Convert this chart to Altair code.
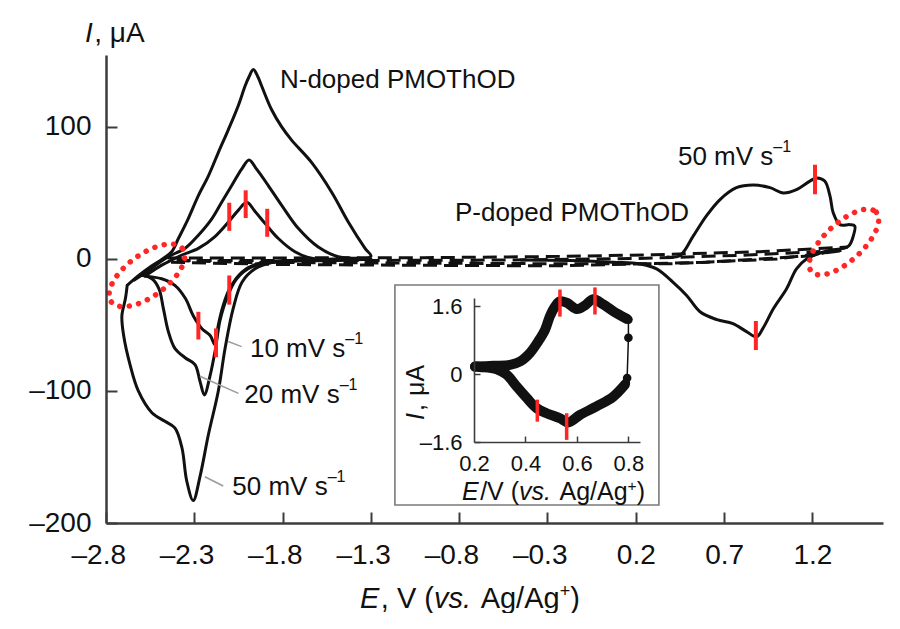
import altair as alt
import numpy as np
import pandas as pd

FONT = "Liberation Sans"
INK = "#111111"
AXC = "#3c3c3c"
RED = "#ff2626"
LEAD = "#9c9c9c"

W, H = 777, 468
X_DOM = [-2.8, 1.6]
Y_DOM = [-200, 154.5]
X_TICKS = [-2.8, -2.3, -1.8, -1.3, -0.8, -0.3, 0.2, 0.7, 1.2]
Y_TICKS = [-200, -100, 0, 100]

INS_X_DOM = [0.2, 0.845]
INS_Y_DOM = [-1.6, 1.8]
INS_X_TICKS = [0.2, 0.4, 0.6, 0.8]
INS_Y_TICKS = [-1.6, 0, 1.6]
INS_X_RANGE = [368, 534]
INS_Y_RANGE = [387, 243]

# ---------------- N-doped PMOThOD, 50 / 20 / 10 mV s-1 ----------------
n50_E = [-2.68, -2.62, -2.55, -2.48, -2.428, -2.39, -2.334, -2.277, -2.22, -2.164,
         -2.107, -2.05, -2.013, -1.99, -1.966, -1.94, -1.918, -1.862, -1.805, -1.749,
         -1.635, -1.522, -1.428, -1.333, -1.30, -1.50, -1.79, -1.86, -1.956, -2.03,
         -2.08, -2.126, -2.164, -2.22, -2.268, -2.306, -2.343, -2.37, -2.41, -2.466,
         -2.54, -2.617, -2.664, -2.70, -2.71, -2.69, -2.68]
n50_I = [-20, -13, -6, 0, 5.5, 15.5, 30.6, 48, 63, 80.6,
         98, 116.5, 130.8, 138, 143.6, 138, 130.8, 113, 100, 90,
         73, 50.6, 28, 8, 2, -1, -1.5, -2.5, -7.5, -17.6,
         -37.6, -68, -100, -133, -165, -183, -168, -143, -128, -123,
         -116.5, -100, -80, -58, -43, -30, -20]

n20_E = [-2.64, -2.56, -2.49, -2.428, -2.353, -2.277, -2.2, -2.145, -2.088, -2.032,
         -1.99, -1.947, -1.881, -1.805, -1.71, -1.598, -1.485, -1.37, -1.30, -1.50,
         -1.80, -1.975, -2.06, -2.117, -2.155, -2.18, -2.21, -2.243, -2.268, -2.296,
         -2.35, -2.41, -2.447, -2.475, -2.50, -2.54, -2.598, -2.64]
n20_I = [-16, -9, -2, 3, 8, 18, 30.6, 43, 55.6, 68,
         75, 68, 55.6, 40.6, 23, 9, 1.7, 0.5, 0, -1,
         -2, -6, -15, -30, -47, -68, -88, -103, -92.5, -80,
         -75, -67.7, -55, -37.6, -22.6, -15, -12.5, -16]

n10_E = [-2.58, -2.50, -2.43, -2.37, -2.277, -2.183, -2.107, -2.05, -2.003, -1.956,
         -1.90, -1.824, -1.73, -1.635, -1.45, -1.30, -1.55, -1.85, -1.95, -2.03,
         -2.10, -2.136, -2.164, -2.183, -2.21, -2.258, -2.306, -2.35, -2.41, -2.485,
         -2.58]
n10_I = [-13, -6, -1, 3, 8, 17, 28, 37, 43, 36,
         27, 15.5, 5.5, 0.5, 0, 0, -1, -2, -4, -10,
         -22.6, -35, -50, -65, -58, -52.6, -43, -30, -20, -15,
         -13]

# ---------------- P-doped PMOThOD ----------------
p50_E = [0.38, 0.45, 0.526, 0.60, 0.677, 0.77, 0.866, 0.96, 1.035, 1.11,
         1.186, 1.224, 1.27, 1.30, 1.318, 1.356, 1.413, 1.44, 1.432, 1.403,
         1.28, 1.167, 1.11, 1.054, 0.98, 0.92, 0.884, 0.827, 0.75, 0.66,
         0.564, 0.488, 0.41, 0.318, 0.224, 0.073, -0.116, -0.45]
p50_I = [1.5, 2.5, 17.5, 32.6, 45, 54, 56, 54, 50, 52.6,
         59, 61.4, 59, 47.6, 35, 26, 26, 25, 17.5, 9.5,
         6, 0, -7.5, -22.6, -37.6, -52.6, -59, -55, -49, -46,
         -40, -27.6, -17.5, -7.5, -3.8, -2.5, -1.3, -0.8]

pA_E = [-2.45, -1.8, -1.0, -0.3, 0.3, 0.9, 1.40, 1.2, 0.6, -0.23, -1.0, -1.8, -2.45, -2.45]
pA_I = [0.8, 0.8, 1.0, 1.8, 3.2, 5.5, 9, 2.5, -2.5, -5.2, -4.8, -4.2, -2.5, 0.8]
pB_E = [-2.40, -1.5, -0.5, 0.2, 0.8, 1.38, 1.0, 0.4, -0.3, -1.2, -2.0, -2.40]
pB_I = [-1.2, -1.2, -0.8, 0.3, 2.8, 6.5, 0.0, -3.6, -3.6, -3.0, -2.6, -1.2]

# red peak markers (main): E, I-low, I-high
RT_E = [-2.102, -2.009, -1.887, -2.102, -2.277, -2.177, 1.215, 0.88]
RT_LO = [21.3, 31, 16.8, -34.6, -61, -74.4, 49, -69]
RT_HI = [42.6, 52, 38, -12.5, -40, -52.6, 71.4, -47]

# leader lines for scan-rate labels
LEAD_E1 = [-2.108, -2.268, -2.24]
LEAD_I1 = [-62.6, -88.9, -165]
LEAD_E2 = [-2.032, -2.05, -2.136]
LEAD_I2 = [-66.4, -101.8, -172]

# dotted ellipses: centre E, centre I, minor/major ratio, size, angle
ELL_E = [-2.568, 1.379]
ELL_I = [-12.4, 12.8]
ELL_RY = [0.47, 0.43]
ELL_SIZE = [7921, 7744]
ELL_ANG = [323.6, 317.3]

# inset frame (main data units)
INSET_BOX_E = [-1.164, 0.331]
INSET_BOX_I = [-19.7, -186.4]

# ---------------- inset ----------------
iu_E = [0.204, 0.275, 0.34, 0.379, 0.417, 0.45, 0.476, 0.495, 0.515, 0.534, 0.56,
        0.6, 0.63, 0.663, 0.702, 0.741, 0.793]
iu_I = [0.18, 0.2, 0.22, 0.3, 0.5, 0.78, 1.05, 1.37, 1.6, 1.72, 1.69,
        1.54, 1.62, 1.77, 1.65, 1.49, 1.31]
il_E = [0.8, 0.8, 0.795]
il_I = [1.29, 0.86, -0.09]
id_E = [0.786, 0.741, 0.676, 0.612, 0.566, 0.534, 0.482, 0.443, 0.405, 0.366,
        0.327, 0.288, 0.223, 0.204]
id_I = [-0.25, -0.53, -0.76, -0.96, -1.14, -1.04, -0.92, -0.8, -0.56, -0.29,
        -0.01, 0.12, 0.17, 0.18]
idot_E = [0.8, 0.8, 0.795, 0.79]
idot_I = [1.29, 0.86, -0.09, -0.2]
IRT_E = [0.534, 0.67, 0.446, 0.56]
IRT_LO = [1.36, 1.41, -1.12, -1.55]
IRT_HI = [2.0, 2.05, -0.6, -0.92]

# ---------------- helpers ----------------
EM = {' ': .278, ',': .278, '.': .278, '/': .278, '(': .333, ')': .333, '-': .333,
      '–': .556, '+': .584, 'μ': .576, 'A': .667, 'D': .722, 'E': .667, 'I': .278,
      'M': .833, 'N': .722, 'O': .778, 'P': .667, 'T': .611, 'V': .667, 'd': .556,
      'e': .556, 'g': .556, 'h': .556, 'm': .833, 'o': .556, 'p': .556, 's': .5, 'v': .5}


def tw(s, size):
    return sum(EM.get(c, 0.556) for c in s) * size


xs = alt.Scale(domain=X_DOM, nice=False, zero=False)
ys = alt.Scale(domain=Y_DOM, nice=False, zero=False)
xi = alt.Scale(domain=INS_X_DOM, range=INS_X_RANGE, nice=False, zero=False)
yi = alt.Scale(domain=INS_Y_DOM, range=INS_Y_RANGE, nice=False, zero=False)


def rich(pieces, x, y, size, xsc=None, ysc=None, baseline="middle", angle=0, offsets=None):
    out = []
    off = 0.0
    for i, (txt, sty) in enumerate(pieces):
        sz = size * 0.62 if sty == "sup" else size
        dy = -size * 0.38 if sty == "sup" else 0
        d = offsets[i] if offsets is not None else off
        lead = len(txt) - len(txt.lstrip(" "))
        d += tw(txt[:lead], sz)
        df = pd.DataFrame({"x": [x], "y": [y], "t": [txt.strip(" ")]})
        m = alt.Chart(df).mark_text(
            align="left", baseline=baseline, font=FONT, fontSize=sz,
            fontStyle="italic" if sty == "it" else "normal", color=INK,
            dx=d, dy=dy, angle=angle)
        if xsc is None:
            enc = dict(x=alt.value(x), y=alt.value(y))
        else:
            enc = dict(x=alt.X("x:Q", scale=xsc, axis=None), y=alt.Y("y:Q", scale=ysc, axis=None))
        out.append(m.encode(text="t:N", **enc))
        off += tw(txt, sz) + (1.5 if sty == "it" else 0)
    return out


def neg_expr(fmt, zero_plain=False):
    e = f"(datum.value < 0 ? '–' : '') + format(abs(datum.value), '{fmt}')"
    if zero_plain:
        e = "datum.value == 0 ? '0' : " + e
    return e


def lab_axis(orient, values, expr, size, pad, offset=0, dwidth=2.5, align=None, loff=None):
    kw = dict(orient=orient, values=values, labelExpr=expr, labelFont=FONT, labelFontSize=size,
              labelColor=INK, labelPadding=pad, ticks=False, tickSize=0, domain=True,
              domainColor=AXC, domainWidth=dwidth, grid=False, title=None, labelFlush=False,
              labelOverlap=False, offset=offset, zindex=2)
    if align:
        kw["labelAlign"] = align
    if loff is not None:
        kw["labelOffset"] = loff
    return alt.Axis(**kw)


def tick_axis(orient, values, size, offset, width=2):
    return alt.Axis(orient=orient, values=values, labels=False, domain=False, ticks=True,
                    tickSize=size, tickWidth=width, tickColor=AXC, grid=False, title=None,
                    offset=offset, zindex=2)


def curve(E, I, xsc, ysc, xaxis=None, yaxis=None, **mk):
    df = pd.DataFrame({"E": E, "I": I, "k": np.arange(len(E))})
    return alt.Chart(df).mark_line(**mk).encode(
        x=alt.X("E:Q", scale=xsc, axis=xaxis),
        y=alt.Y("I:Q", scale=ysc, axis=yaxis),
        order="k:Q")


def rules(E, lo, hi, xsc, ysc, color, width):
    df = pd.DataFrame({"E": E, "lo": lo, "hi": hi})
    return alt.Chart(df).mark_rule(color=color, strokeWidth=width).encode(
        x=alt.X("E:Q", scale=xsc, axis=None),
        y=alt.Y("lo:Q", scale=ysc, axis=None), y2="hi:Q")


def ellipse_path(ry, n=72):
    t = np.linspace(0, 2 * np.pi, n, endpoint=False)
    pts = [f"{np.cos(a):.4f},{ry * np.sin(a):.4f}" for a in t]
    return "M" + " L".join(pts) + " Z"


SOLID = dict(color=INK, strokeWidth=3, strokeJoin="round", strokeCap="round",
             interpolate="catmull-rom", opacity=1)
DASH = dict(color=INK, strokeWidth=3, strokeDash=[14, 7], interpolate="linear", opacity=1)

# ---------------- main layers ----------------
main_layers = [
    curve(pA_E, pA_I, xs, ys, **DASH),
    curve(pB_E, pB_I, xs, ys, **DASH),
    curve(n10_E, n10_I, xs, ys, **SOLID),
    curve(n20_E, n20_I, xs, ys, **SOLID),
    curve(n50_E, n50_I, xs, ys,
          xaxis=lab_axis("bottom", X_TICKS, neg_expr(".1f"), 28, 18, align="right", loff=19.5),
          yaxis=lab_axis("left", Y_TICKS, neg_expr("d"), 28, 15),
          **SOLID),
    curve(p50_E, p50_I, xs, ys, **SOLID),
]

lead_df = pd.DataFrame({"x1": LEAD_E1, "y1": LEAD_I1, "x2": LEAD_E2, "y2": LEAD_I2})
main_layers.append(
    alt.Chart(lead_df).mark_rule(color=LEAD, strokeWidth=1.6).encode(
        x=alt.X("x1:Q", scale=xs, axis=None), y=alt.Y("y1:Q", scale=ys, axis=None),
        x2="x2:Q", y2="y2:Q"))

main_layers.append(rules(RT_E, RT_LO, RT_HI, xs, ys, RED, 4))

for cx, cy, ry, sz, ang in zip(ELL_E, ELL_I, ELL_RY, ELL_SIZE, ELL_ANG):
    df = pd.DataFrame({"E": [cx], "I": [cy]})
    main_layers.append(
        alt.Chart(df).mark_point(shape=ellipse_path(ry), size=sz, angle=ang, filled=False,
                                 color=RED, stroke=RED, strokeWidth=5.5,
                                 strokeDash=[0.1, 9.5], strokeCap="round", opacity=1).encode(
            x=alt.X("E:Q", scale=xs, axis=None), y=alt.Y("I:Q", scale=ys, axis=None)))

ANN_SIZE = 26
rate = lambda v: [(f"{v} mV s", "n"), ("–1", "sup")]
annotations = [
    ([("N-doped PMOThOD", "n")], -1.815, 135.6),
    ([("P-doped PMOThOD", "n")], -0.824, 34.8),
    (rate(50), 0.439, 77),
    (rate(10), -1.985, -68),
    (rate(20), -2.017, -103),
    (rate(50), -2.085, -173),
]
for pieces, ex, iy in annotations:
    main_layers += rich(pieces, ex, iy, ANN_SIZE, xs, ys)

# axis titles (pixel positions in the view frame)
main_layers += rich([("I", "it"), (", μA", "n")], -21, -13, 28, baseline="alphabetic")
main_layers += rich([("E", "it"), (", V (", "n"), ("vs.", "it"), (" Ag/Ag", "n"),
                     ("+", "sup"), (")", "n")], 254, 553, 29, baseline="alphabetic")

tk_df = pd.DataFrame({"E": X_DOM, "I": Y_DOM})
main_layers.append(
    alt.Chart(tk_df).mark_point(opacity=0).encode(
        x=alt.X("E:Q", scale=xs, axis=tick_axis("top", X_TICKS, 11, -H)),
        y=alt.Y("I:Q", scale=ys, axis=tick_axis("right", Y_TICKS, 11, -W))))

box_df = pd.DataFrame({"x1": [INSET_BOX_E[0]], "x2": [INSET_BOX_E[1]],
                       "y1": [INSET_BOX_I[0]], "y2": [INSET_BOX_I[1]]})
main_layers.append(
    alt.Chart(box_df).mark_rect(fill="white", stroke="#7a7a7a", strokeWidth=1.6).encode(
        x=alt.X("x1:Q", scale=xs, axis=None), x2="x2:Q",
        y=alt.Y("y1:Q", scale=ys, axis=None), y2="y2:Q"))

main = alt.layer(*main_layers).resolve_axis(x="independent", y="independent")

# ---------------- inset layers ----------------
BAND = dict(color=INK, strokeWidth=10, strokeJoin="round", strokeCap="round",
            interpolate="catmull-rom", opacity=1)
inset_layers = [
    curve(iu_E, iu_I, xi, yi,
          xaxis=lab_axis("bottom", INS_X_TICKS, "format(datum.value, '.1f')", 22, 11,
                         offset=INS_Y_RANGE[0] - H, dwidth=1.6),
          yaxis=lab_axis("left", INS_Y_TICKS, neg_expr(".1f", True), 22, 12,
                         offset=-INS_X_RANGE[0], dwidth=1.6),
          **BAND),
    curve(id_E, id_I, xi, yi, **BAND),
    curve(il_E, il_I, xi, yi, color=INK, strokeWidth=1.5),
]
idot_df = pd.DataFrame({"E": idot_E, "I": idot_I})
inset_layers.append(
    alt.Chart(idot_df).mark_circle(size=75, color=INK, opacity=1).encode(
        x=alt.X("E:Q", scale=xi, axis=None), y=alt.Y("I:Q", scale=yi, axis=None)))
inset_layers.append(rules(IRT_E, IRT_LO, IRT_HI, xi, yi, RED, 3.5))

itk_df = pd.DataFrame({"E": INS_X_DOM, "I": INS_Y_DOM})
inset_layers.append(
    alt.Chart(itk_df).mark_point(opacity=0).encode(
        x=alt.X("E:Q", scale=xi, axis=tick_axis("top", INS_X_TICKS[1:], 6, -INS_Y_RANGE[0], 1.5)),
        y=alt.Y("I:Q", scale=yi, axis=tick_axis("right", INS_Y_TICKS, 6, INS_X_RANGE[0] - W, 1.5))))

inset_layers += rich([("E", "it"), ("/V (", "n"), ("vs.", "it"), (" Ag/Ag", "n"),
                      ("+", "sup"), (")", "n")], 356, 445, 25, baseline="alphabetic")
inset_layers += rich([("I", "it"), (",", "n"), ("μA", "n")], 318, 365, 25,
                     baseline="alphabetic", angle=270, offsets=[0, 9, 24])

inset = alt.layer(*inset_layers).resolve_axis(x="independent", y="independent")

chart = (
    alt.layer(main, inset)
    .resolve_scale(x="independent", y="independent")
    .resolve_axis(x="independent", y="independent")
    .properties(width=W, height=H,
                autosize=alt.AutoSizeParams(type="none"),
                padding={"left": 98, "top": 47, "right": 5, "bottom": 90},
                background="white")
    .configure_view(stroke=None)
)

chart.save("out.html", embed_options={"renderer": "svg", "actions": False})
